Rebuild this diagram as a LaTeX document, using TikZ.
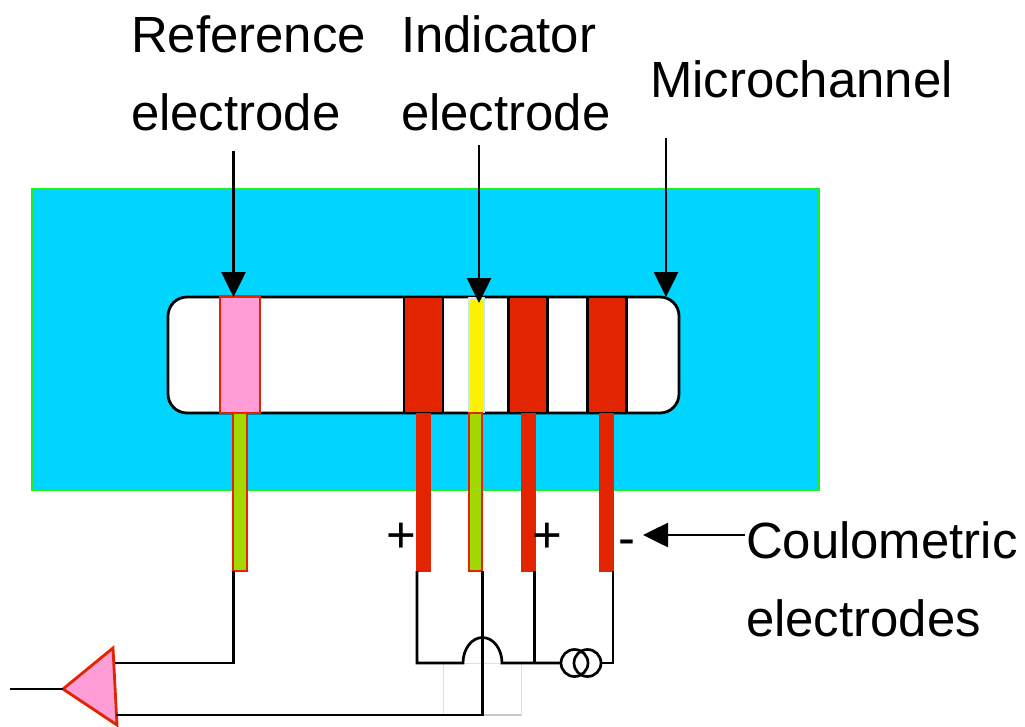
\documentclass[tikz,border=0pt]{standalone}
\usepackage{fontspec}
\setmainfont{Liberation Sans}
\usetikzlibrary{arrows.meta,calc}
\definecolor{chipblue}{HTML}{00D5FF}
\definecolor{chipgreen}{HTML}{20F020}
\definecolor{elred}{HTML}{E32400}
\definecolor{elpink}{HTML}{FF9DD6}
\definecolor{elgreen}{HTML}{A0D800}
\definecolor{paleblue}{HTML}{C6E6F0}
\tikzset{
  box/.style={rectangle,inner sep=0pt,outer sep=0pt},
  chip/.style={box,fill=chipblue,draw=chipgreen,line width=2.6pt},
  redpad/.style={box,fill=elred,draw=black,line width=2.8pt,minimum width=39pt,minimum height=116pt},
  redstem/.style={box,fill=elred,minimum width=15pt,minimum height=159pt},
  greenstem/.style={box,fill=elgreen,draw=elred,line width=2.4pt,minimum width=13.5pt,minimum height=158pt},
  wire/.style={draw=black,line width=2.7pt,line cap=butt,line join=miter},
  callout/.style={draw=black,line width=2.6pt,-{Triangle[length=25pt,width=24pt]}},
  label/.style={inner sep=0pt,outer sep=0pt,anchor=base west,font=\fontsize{50.9}{60}\selectfont},
  sign/.style={inner sep=0pt,outer sep=0pt,font=\fontsize{50.9}{60}\selectfont},
  coil/.style={circle,draw=black,line width=2.7pt,minimum size=27pt,inner sep=0pt,outer sep=0pt}
}
\begin{document}
\begin{tikzpicture}[x=1pt,y=-1pt]
\useasboundingbox (0,0) rectangle (1025,726);
% chip and channel
\node[chip,minimum width=787pt,minimum height=301pt] (chip) at (425.5,339.5) {};
\node[box,fill=white,draw=black,line width=2.8pt,rounded corners=19pt,minimum width=511pt,minimum height=116pt] (channel) at (423.5,355) {};
% electrodes in the channel
\node[box,fill=paleblue,minimum width=17pt,minimum height=116pt] (indback) at (476.5,355) {};
\node[box,fill=yellow,minimum width=12.5pt,minimum height=114pt] (indpad) at (476.5,356) {};
\node[redpad] (padA) at (423.5,355) {};
\node[redpad] (padB) at (528,355) {};
\node[redpad] (padC) at (607,355) {};
% stems
\node[greenstem] (refstem) at (240,492) {};
\node[redstem] (stemA) at (423.5,492.5) {};
\node[greenstem] (indstem) at (475.5,492) {};
\node[redstem] (stemB) at (528.5,492.5) {};
\node[redstem] (stemC) at (606.5,492.5) {};
\node[box,fill=elpink,draw=elred,line width=2.8pt,minimum width=40pt,minimum height=116pt] (refpad) at (240,355) {};
% pale box under the wire crossing
\node[box,fill=white,draw=black!12,line width=1pt,minimum width=78pt,minimum height=52pt] (patch) at (482,689) {};
\draw[draw=black!22,line width=1.5pt] (patch.south) -- (patch.south east);
% amplifier
\coordinate (ampL) at (63,689);
\coordinate (ampT) at (113,648);
\coordinate (ampB) at (117,725);
\draw[fill=elpink,draw=elred,line width=2.8pt,line join=miter] (ampL) -- (ampT) -- (ampB) -- cycle;
\coordinate (ampOut) at (10,689);
\draw[wire] (ampOut) -- (ampL);
% wiring
\coordinate (ampPlus) at (115,663);
\coordinate (ampMinus) at (116,715);
\coordinate (junA) at (417,663);
\coordinate (bridgeL) at (463,663);
\coordinate (junB) at (534.5,663);
\coordinate (junC) at (613,663);
\coordinate (wireRef) at (233.5,571);
\coordinate (wireA) at (417,571);
\coordinate (wireInd) at (482.5,571);
\coordinate (wireB) at (534.5,571);
\coordinate (wireC) at (613,571);
\node[coil] (coilL) at (574.5,663) {};
\node[coil] (coilR) at (587.5,663) {};
\draw[wire] (wireRef) -- (wireRef |- ampPlus) -- (ampPlus);
\draw[wire] (wireInd) -- (wireInd |- ampMinus) -- (ampMinus);
\draw[wire] (wireA) -- (junA) -- (bridgeL) arc[start angle=180,end angle=0,x radius=19.5pt,y radius=25.5pt] -- (coilL.west);
\draw[wire] (wireB) -- (junB);
\draw[wire] (wireC) -- (junC) -- (coilR.east);
% callouts
\coordinate (startRef) at (233.5,151);
\coordinate (startInd) at (479,145);
\coordinate (startMicro) at (666,138);
\coordinate (tipInd) at (479,303);
\coordinate (startCoul) at (745,535);
\coordinate (tipCoul) at (643,535);
\draw[callout] (startRef) -- (startRef |- channel.north);
\draw[callout] (startInd) -- (tipInd);
\draw[callout] (startMicro) -- (startMicro |- channel.north);
\draw[callout] (startCoul) -- (tipCoul);
% labels
\node[label] (t1a) at (131,52) {Reference};
\node[label] (t1b) at (131,130) {electrode};
\node[label] (t2a) at (401,52) {Indicator};
\node[label] (t2b) at (401,130) {electrode};
\node[label] (t3) at (650,97) {Microchannel};
\node[label] (t4a) at (746,558) {Coulometric};
\node[label] (t4b) at (746,636) {electrodes};
\node[sign] (plusA) at (401,538) {+};
\node[sign] (plusB) at (547,538) {+};
\node[sign] (minus) at (627,548) {-};
\end{tikzpicture}
\end{document}
